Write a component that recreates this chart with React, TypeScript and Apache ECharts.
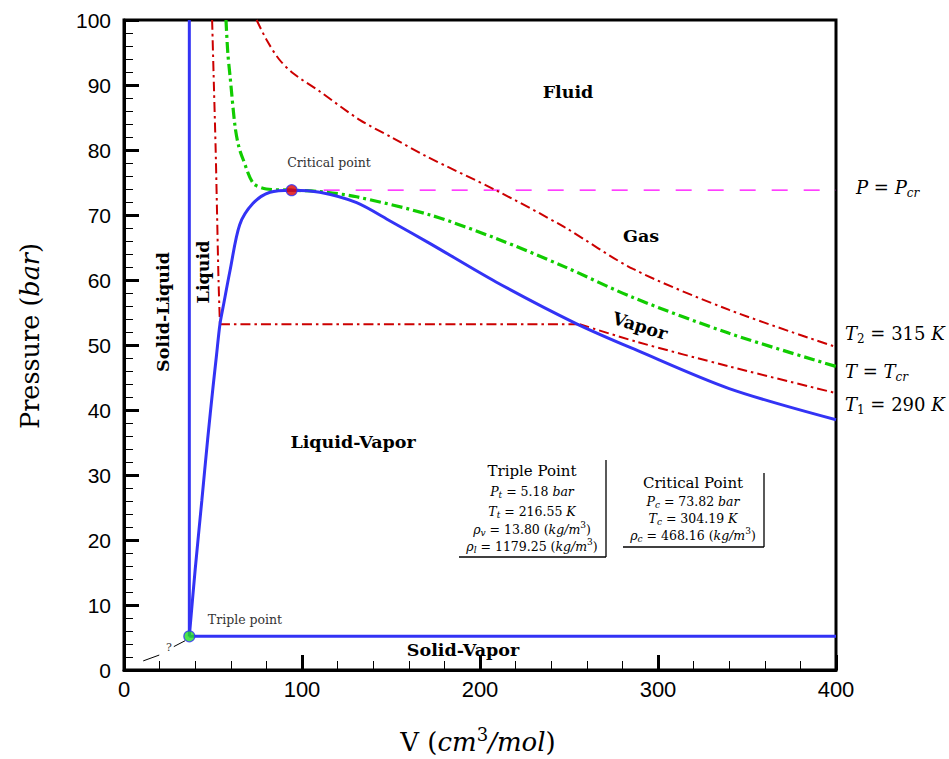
import React, { useEffect, useRef } from "react";
import * as echarts from "echarts";

// Saturation dome (liquid branch -> critical point -> vapor branch)
const domeV = [36.7, 40, 43.7, 47, 50, 52, 53.9, 56, 59.6, 65, 72.5, 82, 94.2, 110, 130.7, 150, 172, 209, 254, 288, 340, 400];
const domeP = [5.18, 15.5, 26, 35.5, 43.5, 48.5, 53.2, 56.3, 61.5, 68.5, 71.8, 73.5, 73.82, 73.5, 71.9, 69, 65.6, 59.7, 53.3, 49.2, 43.3, 38.5];

// Critical isotherm T = Tcr
const tcrV = [57.3, 58.3, 59.6, 62.4, 64.5, 67, 72.6, 80, 94.2, 110, 130.7, 172, 209, 247, 286, 340, 400];
const tcrP = [100, 95, 91.3, 83.6, 80.5, 78.5, 74.9, 74, 73.82, 73.6, 72.8, 70, 66.4, 62.1, 57.3, 51.8, 46.7];

// Isotherm T2 = 315 K
const t2V = [74.5, 80, 87, 95, 110, 132.6, 150, 170, 209, 247, 286, 340, 400];
const t2P = [100, 97, 94, 91.8, 89, 84.6, 82, 79, 73.8, 68.2, 61.7, 55.4, 49.7];

// Isotherm T1 = 290 K: liquid branch, plateau, vapor branch
const t1LiqV = [49.5, 50.5, 51.5, 52.3, 53.1, 53.9];
const t1LiqP = [100, 90, 80, 70, 60, 53.2];
const t1PlatV = [53.9, 256];
const t1PlatP = [53.2, 53.2];
const t1VapV = [256, 288, 340, 400];
const t1VapP = [53.2, 50.5, 46.7, 42.6];

// Critical pressure line
const pcrV = [94.2, 400];
const pcrP = [73.82, 73.82];

// Solid-liquid and solid-vapor boundaries
const slV = [36.7, 36.7];
const slP = [5.18, 100];
const svV = [36.7, 400];
const svP = [5.18, 5.18];

// "?" leader segments
const q1V = [10.8, 19.8];
const q1P = [1.4, 2.3];
const q2V = [28, 34.3];
const q2P = [3.6, 4.5];

// Special points
const criticalPt = [94.2, 73.82];
const triplePt = [36.7, 5.18];

// Axis ticks
const xMin = 0, xMax = 400, xStep = 100;
const yMin = 0, yMax = 100, yStep = 10;

const zip = (a: number[], b: number[]) => a.map((v, i) => [v, b[i]]);

const SERIF = "DejaVu Serif";

const richBase = (fs: number, lh: number) => {
  const sub = Math.round(fs * 0.68);
  return {
    r: { fontFamily: SERIF, fontSize: fs, lineHeight: lh, color: "#000" },
    i: { fontFamily: SERIF, fontSize: fs, fontStyle: "italic", lineHeight: lh, color: "#000" },
    s: { fontFamily: SERIF, fontSize: sub, fontStyle: "italic", lineHeight: sub, verticalAlign: "bottom", color: "#000" },
    sr: { fontFamily: SERIF, fontSize: sub, lineHeight: sub, verticalAlign: "bottom", color: "#000" },
    u: { fontFamily: SERIF, fontSize: sub, lineHeight: sub, verticalAlign: "top", color: "#000" },
  };
};

function txt(
  x: number,
  y: number,
  text: string,
  o: { fs?: number; bold?: boolean; rot?: number; align?: string; color?: string; lh?: number; rich?: boolean } = {}
) {
  const fs = o.fs ?? 17.5;
  const style: any = {
    text,
    fill: o.color ?? "#000",
    fontFamily: SERIF,
    fontSize: fs,
    fontWeight: o.bold ? "bold" : "normal",
    align: o.align ?? "center",
    textAlign: o.align ?? "center",
    verticalAlign: "middle",
    textVerticalAlign: "middle",
  };
  if (o.rich) style.rich = richBase(fs, o.lh ?? Math.round(fs * 1.35));
  return {
    type: "text",
    x,
    y,
    rotation: o.rot ?? 0,
    z: 100,
    style,
  };
}

function seg(x1: number, y1: number, x2: number, y2: number) {
  return {
    type: "line",
    z: 100,
    shape: { x1, y1, x2, y2 },
    style: { stroke: "#000", lineWidth: 1.3 },
  };
}

export default function App() {
  const ref = useRef<HTMLDivElement>(null);

  useEffect(() => {
    if (!ref.current) return;
    const chart = echarts.init(ref.current, undefined, { renderer: "svg" });

    const red = "#cc0000";
    const green = "#11cc00";
    const blue = "#3333f5";
    const redDash = { color: red, width: 2, type: [10, 4, 2.5, 4] };

    const line = (data: number[][], lineStyle: any, z: number, smooth: number | boolean = false) => ({
      type: "line",
      data,
      symbol: "none",
      z,
      smooth,
      lineStyle,
    });

    const option: any = {
      animation: false,
      backgroundColor: "#fff",
      grid: {
        left: 124,
        right: 113,
        top: 20,
        bottom: 89,
        show: true,
        borderColor: "#000",
        borderWidth: 3,
        backgroundColor: "transparent",
      },
      xAxis: {
        type: "value",
        min: xMin,
        max: xMax,
        interval: xStep,
        splitLine: { show: false },
        axisLine: { show: true, lineStyle: { color: "#000", width: 3 } },
        axisTick: { show: true, inside: true, length: 15, lineStyle: { color: "#000", width: 3 } },
        minorTick: { show: true, splitNumber: 5, length: 9, lineStyle: { color: "#000", width: 1 } },
        minorSplitLine: { show: false },
        axisLabel: { color: "#000", fontSize: 22, fontFamily: "Liberation Sans", margin: 8 },
      },
      yAxis: {
        type: "value",
        min: yMin,
        max: yMax,
        interval: yStep,
        splitLine: { show: false },
        axisLine: { show: true, lineStyle: { color: "#000", width: 3 } },
        axisTick: { show: true, inside: true, length: 15, lineStyle: { color: "#000", width: 3 } },
        minorTick: { show: true, splitNumber: 5, length: 9, lineStyle: { color: "#000", width: 1 } },
        minorSplitLine: { show: false },
        axisLabel: { color: "#000", fontSize: 21, fontFamily: "Liberation Sans", margin: 13 },
      },
      series: [
        line(zip(pcrV, pcrP), { color: "#ff00ff", width: 1.2, type: [16, 16] }, 2),
        line(zip(t2V, t2P), redDash, 3, 0.3),
        line(zip(t1LiqV, t1LiqP), redDash, 3, 0.3),
        line(zip(t1PlatV, t1PlatP), redDash, 3),
        line(zip(t1VapV, t1VapP), redDash, 3, 0.3),
        line(zip(tcrV, tcrP), { color: green, width: 3.2, type: [11, 4, 3, 4] }, 4, 0.3),
        line(zip(domeV, domeP), { color: blue, width: 3 }, 5, 0.3),
        line(zip(slV, slP), { color: blue, width: 3 }, 5),
        line(zip(svV, svP), { color: blue, width: 3 }, 5),
        line(zip(q1V, q1P), { color: "#000", width: 1 }, 5),
        line(zip(q2V, q2P), { color: "#000", width: 1 }, 5),
        {
          type: "scatter",
          data: [criticalPt],
          symbol: "circle",
          symbolSize: 11,
          z: 10,
          itemStyle: { color: "#dd0000", borderColor: blue, borderWidth: 1.2 },
        },
        {
          type: "scatter",
          data: [triplePt],
          symbol: "circle",
          symbolSize: 11,
          z: 10,
          itemStyle: { color: "#22dd22", borderColor: blue, borderWidth: 1.2 },
        },
      ],
      graphic: [
        // axis titles
        txt(30, 336, "{r|Pressure (}{i|bar}{r|)}", { fs: 25.5, rot: Math.PI / 2, rich: true }),
        txt(478, 742, "{r|V (}{i|cm}{u|3}{i|/mol}{r|)}", { fs: 26, rich: true, lh: 34 }),
        // region labels
        txt(568, 92, "Fluid", { bold: true }),
        txt(641, 236, "Gas", { bold: true }),
        txt(640, 326, "Vapor", { bold: true, rot: (-17 * Math.PI) / 180 }),
        txt(353, 442, "Liquid-Vapor", { bold: true }),
        txt(463, 650, "Solid-Vapor", { bold: true }),
        txt(163, 312, "Solid-Liquid", { bold: true, rot: Math.PI / 2 }),
        txt(203, 272, "Liquid", { bold: true, rot: Math.PI / 2 }),
        txt(329, 162, "Critical point", { fs: 12.5, color: "#333" }),
        txt(245, 619, "Triple point", { fs: 12.5, color: "#333" }),
        txt(169, 647, "?", { fs: 11, color: "#333" }),
        // right-hand labels
        txt(856, 187, "{i|P}{r| = }{i|P}{s|cr}", { fs: 18, align: "left", rich: true }),
        txt(845, 333, "{i|T}{sr|2}{r| = 315 }{i|K}", { fs: 18, align: "left", rich: true }),
        txt(845, 371, "{i|T}{r| = }{i|T}{s|cr}", { fs: 18, align: "left", rich: true }),
        txt(845, 404, "{i|T}{sr|1}{r| = 290 }{i|K}", { fs: 18, align: "left", rich: true }),
        // triple point box
        txt(532, 471, "Triple Point", { fs: 15 }),
        txt(532, 491, "{i|P}{s|t}{r| = 5.18 }{i|bar}", { fs: 12.5, rich: true }),
        txt(532, 511, "{i|T}{s|t}{r| = 216.55 }{i|K}", { fs: 12.5, rich: true }),
        txt(532, 529, "{i|ρ}{s|v}{r| = 13.80 (}{i|kg/m}{u|3}{r|)}", { fs: 12.5, rich: true }),
        txt(532, 546, "{i|ρ}{s|l}{r| = 1179.25 (}{i|kg/m}{u|3}{r|)}", { fs: 12.5, rich: true }),
        seg(606, 460, 606, 557),
        seg(459, 557, 606, 557),
        // critical point box
        txt(693, 483, "Critical Point", { fs: 15 }),
        txt(693, 501, "{i|P}{s|c}{r| = 73.82 }{i|bar}", { fs: 12.5, rich: true }),
        txt(693, 518, "{i|T}{s|c}{r| = 304.19 }{i|K}", { fs: 12.5, rich: true }),
        txt(693, 535, "{i|ρ}{s|c}{r| = 468.16 (}{i|kg/m}{u|3}{r|)}", { fs: 12.5, rich: true }),
        seg(764, 473, 764, 547),
        seg(623, 547, 764, 547),
      ],
    };

    chart.setOption(option);
    return () => chart.dispose();
  }, []);

  return (
    <div
      ref={ref}
      style={{ position: "absolute", left: 0, top: 0, width: 949, height: 759, background: "#fff" }}
    />
  );
}
